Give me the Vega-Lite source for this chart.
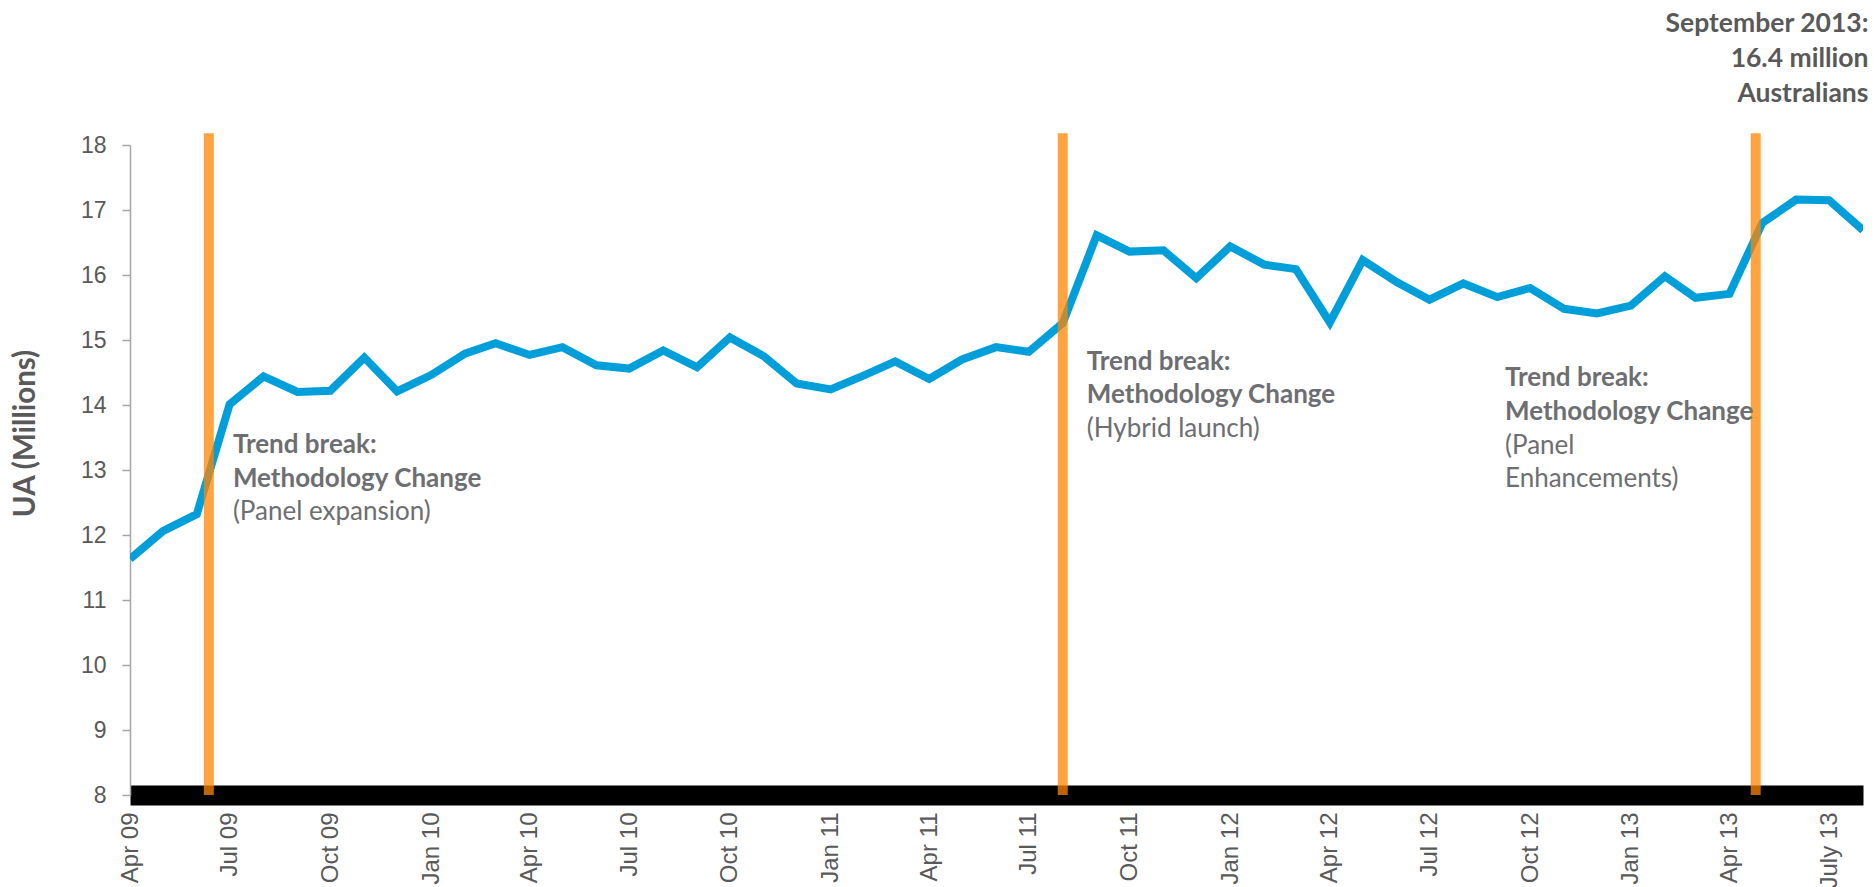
{
  "$schema": "https://vega.github.io/schema/vega-lite/v6.json",
  "autosize": "none",
  "width": 1733,
  "height": 650,
  "padding": {"left": 130, "top": 145, "right": 11, "bottom": 92},
  "background": "white",
  "config": {"view": {"stroke": null}},
  "datasets": {
    "ua": [
      {"month": "2009-04-01", "ua": 11.63},
      {"month": "2009-05-01", "ua": 12.06},
      {"month": "2009-06-01", "ua": 12.32},
      {"month": "2009-07-01", "ua": 14.01},
      {"month": "2009-08-01", "ua": 14.44},
      {"month": "2009-09-01", "ua": 14.2},
      {"month": "2009-10-01", "ua": 14.22},
      {"month": "2009-11-01", "ua": 14.73},
      {"month": "2009-12-01", "ua": 14.21},
      {"month": "2010-01-01", "ua": 14.46},
      {"month": "2010-02-01", "ua": 14.79},
      {"month": "2010-03-01", "ua": 14.95},
      {"month": "2010-04-01", "ua": 14.77},
      {"month": "2010-05-01", "ua": 14.89},
      {"month": "2010-06-01", "ua": 14.61},
      {"month": "2010-07-01", "ua": 14.56},
      {"month": "2010-08-01", "ua": 14.84},
      {"month": "2010-09-01", "ua": 14.58},
      {"month": "2010-10-01", "ua": 15.04},
      {"month": "2010-11-01", "ua": 14.75},
      {"month": "2010-12-01", "ua": 14.33},
      {"month": "2011-01-01", "ua": 14.24},
      {"month": "2011-02-01", "ua": 14.46},
      {"month": "2011-03-01", "ua": 14.67},
      {"month": "2011-04-01", "ua": 14.4},
      {"month": "2011-05-01", "ua": 14.7},
      {"month": "2011-06-01", "ua": 14.89},
      {"month": "2011-07-01", "ua": 14.82},
      {"month": "2011-08-01", "ua": 15.26},
      {"month": "2011-09-01", "ua": 16.61},
      {"month": "2011-10-01", "ua": 16.36},
      {"month": "2011-11-01", "ua": 16.38},
      {"month": "2011-12-01", "ua": 15.95},
      {"month": "2012-01-01", "ua": 16.44},
      {"month": "2012-02-01", "ua": 16.16},
      {"month": "2012-03-01", "ua": 16.09},
      {"month": "2012-04-01", "ua": 15.27},
      {"month": "2012-05-01", "ua": 16.23},
      {"month": "2012-06-01", "ua": 15.89},
      {"month": "2012-07-01", "ua": 15.62},
      {"month": "2012-08-01", "ua": 15.87},
      {"month": "2012-09-01", "ua": 15.66},
      {"month": "2012-10-01", "ua": 15.8},
      {"month": "2012-11-01", "ua": 15.48},
      {"month": "2012-12-01", "ua": 15.41},
      {"month": "2013-01-01", "ua": 15.53},
      {"month": "2013-02-01", "ua": 15.98},
      {"month": "2013-03-01", "ua": 15.65},
      {"month": "2013-04-01", "ua": 15.71},
      {"month": "2013-05-01", "ua": 16.8},
      {"month": "2013-06-01", "ua": 17.16},
      {"month": "2013-07-01", "ua": 17.15},
      {"month": "2013-08-01", "ua": 16.69}
    ],
    "breaks": [
      {"date": "2009-06-12", "low": 8, "high": 18.18},
      {"date": "2011-08-01", "low": 8, "high": 18.18},
      {"date": "2013-04-25", "low": 8, "high": 18.18}
    ],
    "notes": [
      {"date": "2009-07-04", "value": 13.263, "head": ["Trend break:", "Methodology Change"], "detail": ["(Panel expansion)"]},
      {"date": "2011-08-23", "value": 14.545, "head": ["Trend break:", "Methodology Change"], "detail": ["(Hybrid launch)"]},
      {"date": "2012-09-08", "value": 14.288, "head": ["Trend break:", "Methodology Change"], "detail": ["(Panel", "Enhancements)"]}
    ],
    "headline": [
      {"date": "2013-08-06", "value": 19.731, "text": ["September 2013:", "16.4 million", "Australians"]}
    ]
  },
  "layer": [
    {
      "data": {"name": "ua"},
      "mark": {"type": "line", "color": "#009FDA", "strokeWidth": 8, "strokeJoin": "miter", "strokeCap": "butt", "clip": true},
      "encoding": {
        "x": {
          "field": "month",
          "type": "temporal",
          "scale": {"type": "utc", "domain": [{"year": 2009, "month": "apr", "date": 1, "utc": true}, {"year": 2013, "month": "aug", "date": 1, "utc": true}], "nice": false},
          "axis": {
            "title": null,
            "tickCount": {"interval": "month", "step": 3},
            "labelExpr": "utcFormat(datum.value, '%b %y') == 'Jul 13' ? 'July 13' : utcFormat(datum.value, '%b %y')",
            "labelAngle": 270,
            "labelAlign": "right",
            "labelBaseline": "middle",
            "labelPadding": 17,
            "labelFont": "Liberation Sans",
            "labelFontSize": 24,
            "labelColor": "#595959",
            "labelOverlap": false,
            "labelFlush": false,
            "ticks": false,
            "grid": false,
            "domain": true,
            "domainColor": "#000000",
            "domainWidth": 20
          }
        },
        "y": {
          "field": "ua",
          "type": "quantitative",
          "scale": {"domain": [8, 18], "nice": false, "zero": false},
          "axis": {
            "title": "UA (Millions)",
            "titleFont": "Lato",
            "titleFontWeight": "bold",
            "titleFontSize": 29.5,
            "titleColor": "#595959",
            "titleAngle": 270,
            "titleAlign": "center",
            "titleBaseline": "middle",
            "titleX": -105,
            "titleY": 288,
            "values": [8, 9, 10, 11, 12, 13, 14, 15, 16, 17, 18],
            "format": "d",
            "labelFont": "Liberation Sans",
            "labelFontSize": 23,
            "labelColor": "#595959",
            "labelPadding": 16,
            "tickSize": 8,
            "tickColor": "#A6A6A6",
            "tickWidth": 1.5,
            "domainColor": "#A6A6A6",
            "domainWidth": 1.5,
            "grid": false
          }
        }
      }
    },
    {
      "data": {"name": "breaks"},
      "mark": {"type": "rule", "color": "#FF8500", "opacity": 0.75, "strokeWidth": 10, "strokeCap": "butt", "clip": false},
      "encoding": {
        "x": {"field": "date", "type": "temporal"},
        "y": {"field": "low", "type": "quantitative"},
        "y2": {"field": "high"}
      }
    },
    {
      "data": {"name": "notes"},
      "mark": {"type": "text", "align": "left", "baseline": "alphabetic", "font": "Lato", "fontWeight": "bold", "fontSize": 26, "lineHeight": 33.7, "color": "#6D6E71"},
      "encoding": {
        "x": {"field": "date", "type": "temporal"},
        "y": {"field": "value", "type": "quantitative"},
        "text": {"field": "head"}
      }
    },
    {
      "data": {"name": "notes"},
      "mark": {"type": "text", "align": "left", "baseline": "alphabetic", "font": "Lato", "fontWeight": "normal", "fontSize": 26, "lineHeight": 33.7, "dy": 67.4, "color": "#6D6E71"},
      "encoding": {
        "x": {"field": "date", "type": "temporal"},
        "y": {"field": "value", "type": "quantitative"},
        "text": {"field": "detail"}
      }
    },
    {
      "data": {"name": "headline"},
      "mark": {"type": "text", "align": "right", "baseline": "alphabetic", "font": "Lato", "fontWeight": "bold", "fontSize": 26.5, "lineHeight": 35, "color": "#595959", "clip": false},
      "encoding": {
        "x": {"field": "date", "type": "temporal"},
        "y": {"field": "value", "type": "quantitative"},
        "text": {"field": "text"}
      }
    }
  ]
}
